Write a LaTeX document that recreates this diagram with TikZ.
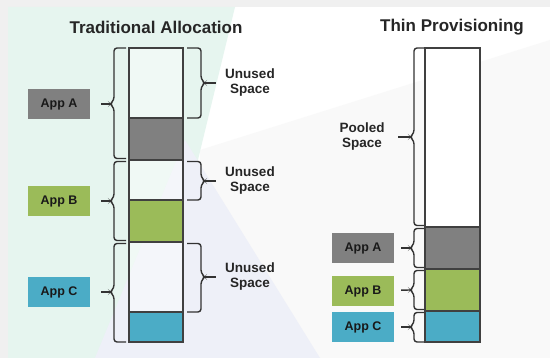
\documentclass[tikz,border=0pt]{standalone}
\usepackage{fontspec}
\setmainfont{Liberation Sans}
\usepackage{xcolor}
\usetikzlibrary{positioning,calc}
\definecolor{appgray}{HTML}{808080}
\definecolor{appgreen}{HTML}{9BBB59}
\definecolor{appblue}{HTML}{4BACC6}
\definecolor{mint}{HTML}{E6F5EF}
\definecolor{lavande}{HTML}{EEF0F8}
\tikzset{
	appbox/.style={minimum width=62pt,minimum height=30pt,inner sep=0pt,text=black!90,font=\fontsize{12.5}{15}\selectfont\bfseries},
	lbl/.style={align=center,font=\fontsize{13.5}{15}\selectfont\bfseries,text=black!85},
	titre/.style={font=\fontsize{17}{20}\selectfont\bfseries,text=black!85},
	brc/.style={draw=black!80,line width=1.4pt,rounded corners=3pt},
	stem/.style={draw=black!80,line width=1.4pt},
	bar/.style={draw=black!75,line width=1.1pt}
}
\begin{document}
\begin{tikzpicture}[x=1pt,y=-1pt]
	\def\xL{129};
	\def\xR{183};
	\def\xl{425};
	\def\xr{480};
\useasboundingbox (0,0) rectangle (550,358);

%Fond
\fill[black!6] (0,0) rectangle (550,358);
\fill[white] (8,7) rectangle (550,358);
\fill[black!2.5] (200,150) -- (550,40) -- (550,358) -- (200,358) -- cycle;
\fill[mint] (8,7) -- (235,7) -- (150,358) -- (8,358) -- cycle;
\fill[lavande] (185,140) -- (320,358) -- (95,358) -- cycle;

%Titres
\node[titre] (tradT) at (156,27) {Traditional Allocation};
\node[titre] (thinT) at (452,27) {Thin Provisioning};

%Barre de gauche
\filldraw[bar,fill=white,fill opacity=0.4] (\xL,48) rectangle (\xR,118);
\filldraw[bar,fill=appgray] (\xL,118) rectangle (\xR,160);
\filldraw[bar,fill=white,fill opacity=0.4] (\xL,160) rectangle (\xR,200);
\filldraw[bar,fill=appgreen] (\xL,200) rectangle (\xR,242);
\filldraw[bar,fill=white,fill opacity=0.4] (\xL,242) rectangle (\xR,312);
\filldraw[bar,fill=appblue] (\xL,312) rectangle (\xR,342);

%Barre de droite
\filldraw[bar,fill=white] (\xl,48) rectangle (\xr,227);
\filldraw[bar,fill=appgray] (\xl,227) rectangle (\xr,269);
\filldraw[bar,fill=appgreen] (\xl,269) rectangle (\xr,311);
\filldraw[bar,fill=appblue] (\xl,311) rectangle (\xr,342);

%Applications
\node[appbox,fill=appgray] (appA) at (59,104) {App A};
\node[appbox,fill=appgreen] (appB) at (59,201) {App B};
\node[appbox,fill=appblue] (appC) at (59,292) {App C};
\node[appbox,fill=appgray] (thinA) at (363,248) {App A};
\node[appbox,fill=appgreen] (thinB) at (363,291) {App B};
\node[appbox,fill=appblue] (thinC) at (363,327) {App C};

%Textes
\node[lbl] (unused1) at (250,83) {Unused\\Space};
\node[lbl] (unused2) at (250,181) {Unused\\Space};
\node[lbl] (unused3) at (250,277) {Unused\\Space};
\node[lbl] (pooled) at (362,137) {Pooled\\Space};

%Pointes des accolades
\coordinate (tA) at (110,104);
\coordinate (tB) at (110,201);
\coordinate (tC) at (110,292);
\coordinate (tU1) at (205,83);
\coordinate (tU2) at (205,181);
\coordinate (tU3) at (205,277);
\coordinate (tP) at (410,137);
\coordinate (tTA) at (410,248);
\coordinate (tTB) at (410,290);
\coordinate (tTC) at (410,327);

%Accolades a gauche de la barre
\draw[brc] (126,48) -- (114,48) -- (114,100) -- (tA) -- (114,108) -- (114,158.5) -- (126,158.5);
\draw[brc] (126,161.5) -- (114,161.5) -- (114,197) -- (tB) -- (114,205) -- (114,240.5) -- (126,240.5);
\draw[brc] (126,243.5) -- (114,243.5) -- (114,288) -- (tC) -- (114,296) -- (114,342) -- (126,342);

%Accolades a droite de la barre
\draw[brc] (187,48) -- (201,48) -- (201,79) -- (tU1) -- (201,87) -- (201,118) -- (187,118);
\draw[brc] (187,161.5) -- (201,161.5) -- (201,177) -- (tU2) -- (201,185) -- (201,200) -- (187,200);
\draw[brc] (187,243.5) -- (201,243.5) -- (201,273) -- (tU3) -- (201,281) -- (201,312) -- (187,312);

%Accolades thin
\draw[brc] (424,48) -- (414,48) -- (414,133) -- (tP) -- (414,141) -- (414,225.5) -- (424,225.5);
\draw[brc] (424,228.5) -- (414,228.5) -- (414,244) -- (tTA) -- (414,252) -- (414,267.5) -- (424,267.5);
\draw[brc] (424,270.5) -- (414,270.5) -- (414,286) -- (tTB) -- (414,294) -- (414,309.5) -- (424,309.5);
\draw[brc] (424,312.5) -- (414,312.5) -- (414,323) -- (tTC) -- (414,331) -- (414,342) -- (424,342);

%Liaisons
\draw[stem,shorten <=11pt] (appA) -- (tA);
\draw[stem,shorten <=11pt] (appB) -- (tB);
\draw[stem,shorten <=11pt] (appC) -- (tC);
\draw[stem,shorten >=6pt] (tU1) -- (unused1);
\draw[stem,shorten >=6pt] (tU2) -- (unused2);
\draw[stem,shorten >=6pt] (tU3) -- (unused3);
\draw[stem,shorten <=10pt] (pooled) -- (tP);
\draw[stem,shorten <=7pt] (thinA) -- (tTA);
\draw[stem,shorten <=7pt] (thinB) -- (tTB);
\draw[stem,shorten <=7pt] (thinC) -- (tTC);

\end{tikzpicture}
\end{document}
